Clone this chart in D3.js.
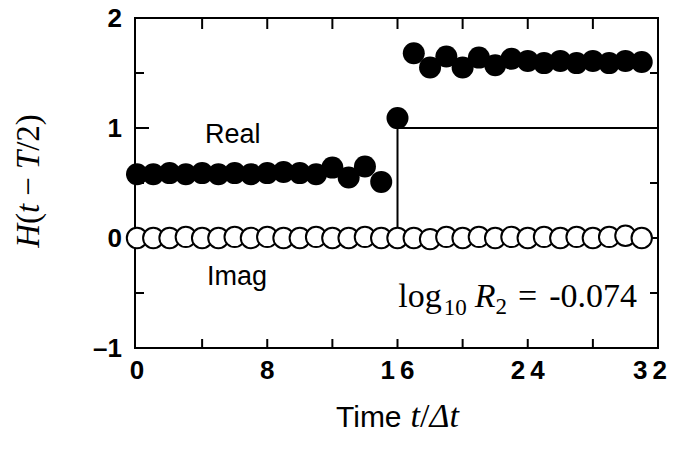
<!DOCTYPE html>
<html><head><meta charset="utf-8">
<script src="https://cdn.jsdelivr.net/npm/d3@7"></script>
<style>html,body{margin:0;padding:0;background:#fff;}svg{display:block;}</style>
</head><body>
<script>
const times = d3.range(0, 32);
const realValues = [0.58,0.58,0.59,0.58,0.59,0.58,0.59,0.58,0.59,0.60,0.59,0.58,0.64,0.55,0.65,0.51,
                    1.09,1.68,1.55,1.65,1.55,1.64,1.57,1.63,1.61,1.59,1.61,1.59,1.61,1.59,1.61,1.60];
const imagValues = [0.00,0.00,0.00,0.01,0.00,0.00,0.01,0.00,0.01,0.00,0.00,0.01,0.00,0.00,0.01,0.00,
                    0.00,0.00,-0.01,0.01,0.00,0.01,0.00,0.01,0.00,0.01,0.00,0.01,0.00,0.01,0.02,0.00];
const stepX = [0, 16, 16, 32];
const stepY = [0, 0, 1, 1];
const xTicks = [0, 8, 16, 24, 32];
const xMinorTicks = [4, 8, 12, 16, 20, 24, 28];
const yTicks = [-1, 0, 1, 2];
const yMinorTicks = [-0.5, 0.5, 1.5];
const annotation = "-0.074";

const W = 680, H = 451;
const svg = d3.select("body").append("svg").attr("width", W).attr("height", H);
const x = d3.scaleLinear().domain([0, 32]).range([137, 658]);
const y = d3.scaleLinear().domain([-1, 2]).range([348, 18]);
const fL = 135, fR = 658, fT = 18, fB = 348;

svg.append("path")
  .attr("d", d3.line().x((d,i)=>x(stepX[i])).y((d,i)=>y(stepY[i]))(stepX))
  .attr("fill","none").attr("stroke","#000").attr("stroke-width",2);

svg.append("rect").attr("x",fL).attr("y",fT).attr("width",fR-fL).attr("height",fB-fT)
  .attr("fill","none").attr("stroke","#000").attr("stroke-width",2);

const tg = svg.append("g").attr("stroke","#000").attr("stroke-width",2);
xMinorTicks.forEach(t=>{
  tg.append("line").attr("x1",x(t)).attr("x2",x(t)).attr("y1",fB).attr("y2",fB-9);
  tg.append("line").attr("x1",x(t)).attr("x2",x(t)).attr("y1",fT).attr("y2",fT+11);
});
yTicks.filter(v=>v>-1&&v<2).forEach(v=>{
  tg.append("line").attr("x1",fL).attr("x2",fL+14).attr("y1",y(v)).attr("y2",y(v));
  tg.append("line").attr("x1",fR).attr("x2",fR-14).attr("y1",y(v)).attr("y2",y(v));
});
yMinorTicks.forEach(v=>{
  tg.append("line").attr("x1",fL).attr("x2",fL+9).attr("y1",y(v)).attr("y2",y(v));
  tg.append("line").attr("x1",fR).attr("x2",fR-8).attr("y1",y(v)).attr("y2",y(v));
});

const lab = svg.append("g").attr("font-family","Liberation Sans, Arial, sans-serif")
  .attr("font-weight","bold").attr("font-size",26).attr("fill","#000");
yTicks.forEach(v=>{
  lab.append("text").attr("x",122).attr("y",y(v)).attr("dy","0.36em").attr("text-anchor","end")
    .text(v<0 ? "\u2013" + Math.abs(v) : String(v));
});
xTicks.forEach(v=>{
  const s = String(v);
  lab.append("text").attr("x",x(v) + (s.length>1?2.5:0) - (v===32?8:0)).attr("y",379).attr("text-anchor","middle")
    .attr("letter-spacing", s.length>1 ? 5 : 0).text(s);
});

svg.append("g").selectAll("circle").data(times).join("circle")
  .attr("cx",d=>x(d)).attr("cy",(d,i)=>y(imagValues[i])).attr("r",10.2)
  .attr("fill","#fff").attr("stroke","#000").attr("stroke-width",2);
svg.append("g").selectAll("circle").data(times).join("circle")
  .attr("cx",d=>x(d)).attr("cy",(d,i)=>y(realValues[i])).attr("r",11)
  .attr("fill","#000");

svg.append("text").attr("x",205).attr("y",143).attr("font-family","Liberation Sans, Arial, sans-serif")
  .attr("font-size",27).text("Real");
svg.append("text").attr("x",207).attr("y",285).attr("font-family","Liberation Sans, Arial, sans-serif")
  .attr("font-size",27).text("Imag");

const ann = svg.append("text").attr("x",637).attr("y",307).attr("text-anchor","end")
  .attr("font-family","Liberation Serif, Times New Roman, serif").attr("font-size",34);
ann.append("tspan").text("log");
ann.append("tspan").attr("font-size",23).attr("dy",8).attr("dx",2).text("10");
ann.append("tspan").attr("font-style","italic").attr("dy",-8).attr("dx",8).text("R");
ann.append("tspan").attr("font-size",23).attr("dy",7).text("2");
ann.append("tspan").attr("dy",-7).attr("dx",11).text("=");
ann.append("tspan").attr("dx",12).text(annotation);

const yl = svg.append("text").attr("transform","translate(39,181) rotate(-90)").attr("text-anchor","middle")
  .attr("font-family","Liberation Serif, Times New Roman, serif").attr("font-size",33);
yl.append("tspan").attr("font-style","italic").text("H");
yl.append("tspan").text("(");
yl.append("tspan").attr("font-style","italic").text("t");
yl.append("tspan").attr("dx",8).text("\u2212");
yl.append("tspan").attr("dx",8).attr("font-style","italic").text("T");
yl.append("tspan").text("/2)");

const xl = svg.append("text").attr("x",336).attr("y",427).attr("font-size",30);
xl.append("tspan").attr("font-family","Liberation Sans, Arial, sans-serif").text("Time");
xl.append("tspan").attr("dx",9).attr("font-family","Liberation Serif, serif").attr("font-style","italic").attr("font-size",34).text("t");
xl.append("tspan").attr("font-family","Liberation Serif, serif").attr("font-size",34).text("/");
xl.append("tspan").attr("font-family","Liberation Serif, serif").attr("font-style","italic").attr("font-size",34).text("\u0394t");
</script>
</body></html>
